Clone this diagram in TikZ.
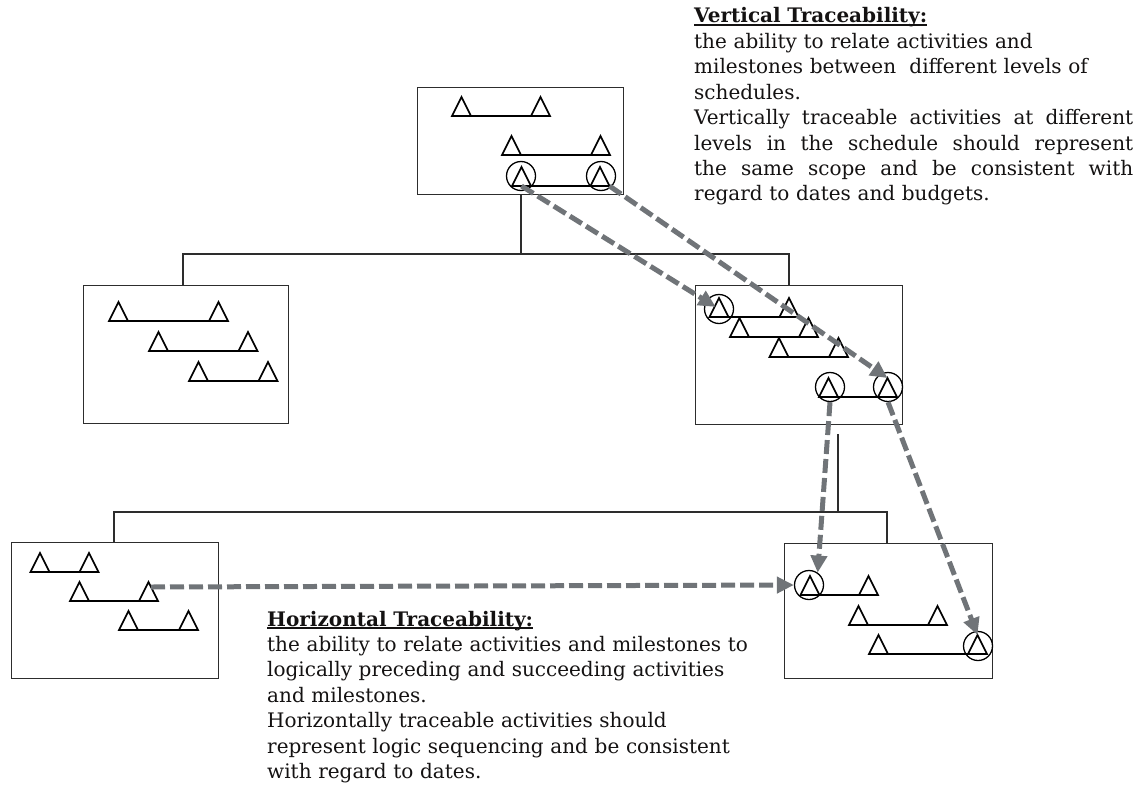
\documentclass[tikz,border=0pt]{standalone}
\usepackage{fontspec}
\setmainfont{DejaVu Serif}
\usetikzlibrary{arrows.meta}

\definecolor{tracegray}{RGB}{112,116,120}
\definecolor{ink}{RGB}{20,18,18}
\definecolor{framecol}{RGB}{45,45,45}

% bold heading with a heavy underline
\newsavebox\headbox
\newcommand\ulhead[1]{\sbox\headbox{\bfseries #1}%
  \rlap{\rule[-3pt]{\wd\headbox}{2.2pt}}\usebox\headbox}
% a line spread to the full width of the text block
\newcommand\fullline[1]{\hbox to \hsize{\spaceskip=0.3em plus 1fil\relax #1}}

\tikzset{
  box/.style={draw=framecol, line width=1.4pt, anchor=north west, inner sep=0pt},
  tri/.style={draw=black, line width=1.6pt, line join=miter},
  bar/.style={draw=black, line width=1.3pt},
  ring/.style={circle, draw=black, line width=1.3pt, minimum size=29pt, inner sep=0pt},
  link/.style={draw=framecol, line width=1.2pt},
  trace/.style={draw=tracegray, line width=5pt, dash pattern=on 14pt off 5pt,
    -{Triangle[length=17pt,width=16pt]}},
  note/.style={anchor=base west, inner sep=0pt, align=left, text=ink,
    font=\fontsize{20}{25.4}\selectfont},
  % milestone: triangle standing on its base centre
  ms/.pic={
    \coordinate (-b) at (0,0);
    \coordinate (-a) at (0,-19);
    \coordinate (-r) at (9.5,0);
    \coordinate (-k) at (2.5,-14);
    \draw[tri] (-9.5,0) -- (0,-19) -- (9.5,0) -- cycle;
  }
}

\begin{document}
\begin{tikzpicture}[x=1pt,y=-1pt]
\useasboundingbox (0,0) rectangle (1140,787);

% ---------- schedule boxes ----------
\node[box, minimum width=206pt, minimum height=107pt] (top) at (417,87) {};
\node[box, minimum width=205pt, minimum height=138pt] (ml) at (83,285) {};
\node[box, minimum width=207pt, minimum height=139pt] (mr) at (695,285) {};
\node[box, minimum width=207pt, minimum height=136pt] (bl) at (11,542) {};
\node[box, minimum width=208pt, minimum height=135pt] (br) at (784,543) {};

% ---------- hierarchy lines ----------
\coordinate (j1) at (521,254);
\coordinate (j2a) at (838,434);
\coordinate (j2) at (838,512);
\draw[link] (j1 |- top.south) -- (j1);
\draw[link] ([xshift=100pt]ml.north west) |- (j1) -| ([xshift=94pt]mr.north west);
\draw[link] (j2a) -- (j2);
\draw[link] ([xshift=103pt]bl.north west) |- (j2) -| ([xshift=103pt]br.north west);

% ---------- top level schedule ----------
\pic (t1) at (461.5,116) {ms};  \pic (t2) at (540.5,116) {ms};
\pic (t3) at (511.5,155) {ms};  \pic (t4) at (600.5,155) {ms};
\pic (t5) at (521.5,186) {ms};  \pic (t6) at (600,186) {ms};
\draw[bar] (t1-b) -- (t2-b);
\draw[bar] (t3-b) -- (t4-b);
\draw[bar] (t5-b) -- (t6-b);
\node[ring] (c1) at (521,176) {};
\node[ring] (c2) at (601,176) {};

% ---------- middle level, left ----------
\pic (l1) at (118.5,321) {ms};  \pic (l2) at (218.5,321) {ms};
\pic (l3) at (158.5,351) {ms};  \pic (l4) at (248,351) {ms};
\pic (l5) at (198.5,381) {ms};  \pic (l6) at (268,381) {ms};
\draw[bar] (l1-b) -- (l2-b);
\draw[bar] (l3-b) -- (l4-b);
\draw[bar] (l5-b) -- (l6-b);

% ---------- middle level, right ----------
\pic (m1) at (719,317) {ms};    \pic (m2) at (789,317) {ms};
\pic (m3) at (739.5,337) {ms};  \pic (m4) at (808.5,337) {ms};
\pic (m5) at (779,357) {ms};    \pic (m6) at (838.5,357) {ms};
\pic (m7) at (828.5,397) {ms};  \pic (m8) at (887.5,397) {ms};
\draw[bar] (m1-b) -- (m2-b);
\draw[bar] (m3-b) -- (m4-b);
\draw[bar] (m5-b) -- (m6-b);
\draw[bar] (m7-b) -- (m8-b);
\node[ring] (c3) at (719,309) {};
\node[ring] (c4) at (830,387) {};
\node[ring] (c5) at (888,387) {};

% ---------- lower level, left ----------
\pic (p1) at (40,572) {ms};     \pic (p2) at (89,572) {ms};
\pic (p3) at (79.5,601) {ms};   \pic (p4) at (148.5,601) {ms};
\pic (p5) at (128.5,630) {ms};  \pic (p6) at (188.5,630) {ms};
\draw[bar] (p1-b) -- (p2-b);
\draw[bar] (p3-b) -- (p4-b);
\draw[bar] (p5-b) -- (p6-b);

% ---------- lower level, right ----------
\pic (q1) at (810,595) {ms};    \pic (q2) at (868.5,595) {ms};
\pic (q3) at (858.5,625) {ms};  \pic (q4) at (937.5,625) {ms};
\pic (q5) at (878.5,654) {ms};  \pic (q6) at (977.5,654) {ms};
\draw[bar] (q1-b) -- (q2-b);
\draw[bar] (q3-b) -- (q4-b);
\draw[bar] (q5-b) -- (q6-b);
\node[ring] (c6) at (809,585) {};
\node[ring] (c7) at (978,646) {};

% ---------- traceability links ----------
\draw[trace, shorten >=4pt] (t5-b) -- (c3.center);
\draw[trace] (t6-r) -- (m8-a);
\draw[trace] (c4.south) -- (c6.55);
\draw[trace] (c5.south) -- (q6-a);
\draw[trace] (p4-k) -- (c6.west);

% ---------- explanations ----------
\node[note, text width=439pt] (vt) at (694,23) {%
  \ulhead{Vertical Traceability:}\\
  the ability to relate activities and\\
  milestones between\ \ different levels of\\
  schedules.\\
  \fullline{Vertically traceable activities at different}
  \fullline{levels in the schedule should represent}
  \fullline{the same scope and be consistent with}
  regard to dates and budgets.};

\node[note, text width=500pt] (ht) at (267,626) {%
  \ulhead{Horizontal Traceability:}\\
  the ability to relate activities and milestones to\\
  logically preceding and succeeding activities\\
  and milestones.\\
  Horizontally traceable activities should\\
  represent logic sequencing and be consistent\\
  with regard to dates.};
\end{tikzpicture}
\end{document}
